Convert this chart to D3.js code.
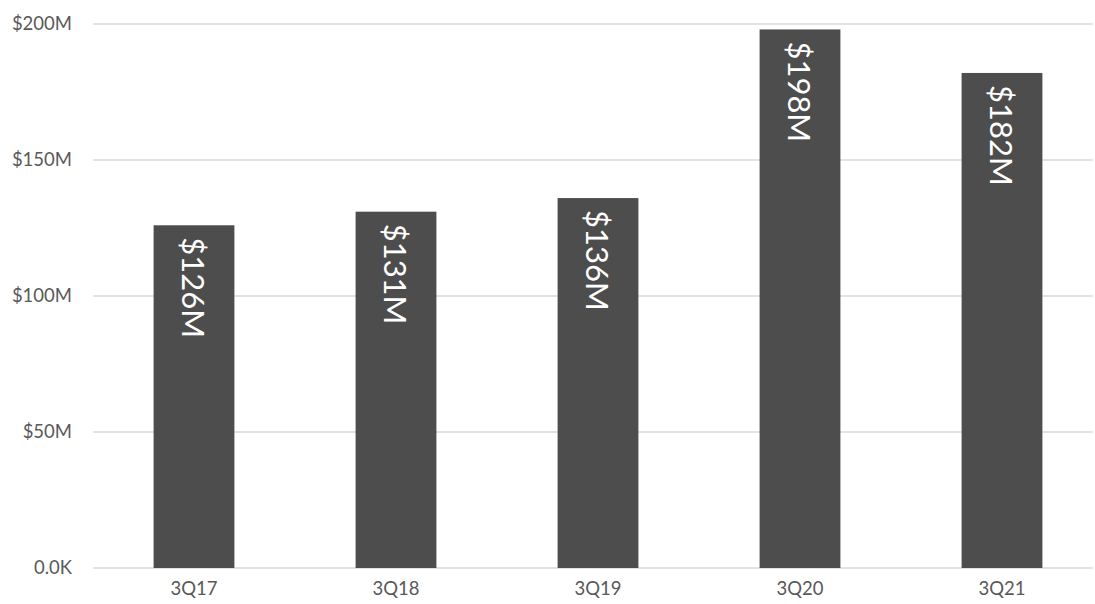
<!DOCTYPE html>
<html>
<head>
<meta charset="utf-8">
<script src="https://cdn.jsdelivr.net/npm/d3@7"></script>
<style>
  html, body { margin: 0; padding: 0; background: #fff; }
  svg { display: block; font-family: Lato, "Open Sans", sans-serif; }
</style>
</head>
<body>
<svg id="chart" width="1095" height="604"></svg>
<script>
// Quarterly revenue, millions of dollars
const quarters = ["3Q17", "3Q18", "3Q19", "3Q20", "3Q21"];
const revenue = [126, 131, 136, 198, 182];
const yTicks = [0, 50, 100, 150, 200];
const yTickLabels = ["0.0K", "$50M", "$100M", "$150M", "$200M"];

const svg = d3.select("#chart");
const margin = { left: 93, right: 2, top: 24, bottom: 36 };
const width = 1095, height = 604;

const x = d3.scaleBand()
  .domain(quarters)
  .range([margin.left, margin.left + 1010])
  .paddingInner(0.6)
  .paddingOuter(0.3);

const y = d3.scaleLinear()
  .domain([0, 200])
  .range([height - margin.bottom, margin.top]);

// Horizontal gridlines
svg.append("g")
  .selectAll("line")
  .data(yTicks)
  .join("line")
  .attr("x1", margin.left)
  .attr("x2", width - margin.right)
  .attr("y1", d => y(d))
  .attr("y2", d => y(d))
  .attr("stroke", "#d9d9d9")
  .attr("stroke-width", 1.5);

// Y axis labels
const yAxis = d3.axisLeft(y)
  .tickValues(yTicks)
  .tickFormat((d, i) => yTickLabels[i])
  .tickSize(0)
  .tickPadding(0);
const gy = svg.append("g")
  .attr("transform", "translate(72,0)")
  .call(yAxis);
gy.select(".domain").remove();
gy.selectAll("text")
  .attr("fill", "#595959")
  .attr("font-size", 18.5)
  .attr("font-family", "Lato, sans-serif");

// X axis labels
const xAxis = d3.axisBottom(x).tickSize(0).tickPadding(0);
const gx = svg.append("g")
  .attr("transform", `translate(0,${height - margin.bottom + 14})`)
  .call(xAxis);
gx.select(".domain").remove();
gx.selectAll("text")
  .attr("fill", "#595959")
  .attr("font-size", 18.5)
  .attr("font-family", "Lato, sans-serif");

// Bars
svg.append("g")
  .selectAll("rect")
  .data(revenue)
  .join("rect")
  .attr("x", (d, i) => x(quarters[i]))
  .attr("width", x.bandwidth())
  .attr("y", d => y(d))
  .attr("height", d => y(0) - y(d))
  .attr("fill", "#4d4d4d");

// Value labels, rotated to read top-to-bottom inside each bar
svg.append("g")
  .selectAll("text")
  .data(revenue)
  .join("text")
  .attr("transform", (d, i) =>
    `translate(${x(quarters[i]) + x.bandwidth() / 2},${y(d) + 12}) rotate(90)`)
  .attr("text-anchor", "start")
  .attr("dominant-baseline", "central")
  .attr("fill", "#ffffff")
  .attr("font-size", 31)
  .attr("font-family", "Lato, sans-serif")
  .text(d => `$${d}M`);
</script>
</body>
</html>
